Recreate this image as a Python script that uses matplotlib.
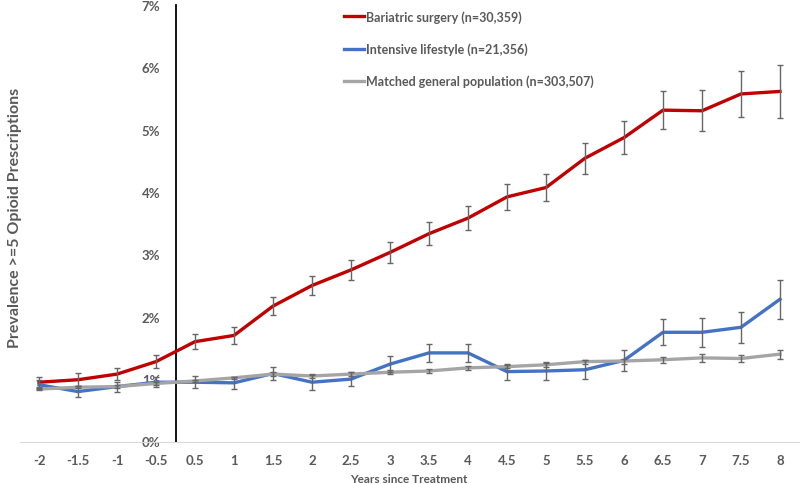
import matplotlib.pyplot as plt
import numpy as np

plt.rcParams['font.family'] = ['Lato', 'DejaVu Sans']

years = ['-2', '-1.5', '-1', '-0.5', '0.5', '1', '1.5', '2', '2.5', '3',
         '3.5', '4', '4.5', '5', '5.5', '6', '6.5', '7', '7.5', '8']

bariatric = [0.95, 0.99, 1.08, 1.28, 1.60, 1.70, 2.17, 2.50, 2.75, 3.03,
             3.33, 3.58, 3.92, 4.07, 4.54, 4.87, 5.31, 5.30, 5.57, 5.61]
bariatric_err = [0.08, 0.10, 0.10, 0.11, 0.12, 0.13, 0.14, 0.15, 0.16, 0.17,
                 0.18, 0.19, 0.21, 0.22, 0.25, 0.27, 0.30, 0.33, 0.37, 0.43]

lifestyle = [0.91, 0.80, 0.88, 0.95, 0.95, 0.94, 1.09, 0.95, 1.00, 1.24,
             1.42, 1.42, 1.12, 1.13, 1.15, 1.30, 1.75, 1.75, 1.83, 2.28]
lifestyle_err = [0.07, 0.09, 0.08, 0.08, 0.10, 0.10, 0.11, 0.12, 0.11, 0.13,
                 0.14, 0.14, 0.13, 0.14, 0.15, 0.17, 0.21, 0.23, 0.25, 0.31]

general = [0.84, 0.87, 0.88, 0.93, 0.97, 1.02, 1.08, 1.05, 1.08, 1.11,
           1.13, 1.18, 1.20, 1.23, 1.28, 1.29, 1.31, 1.34, 1.33, 1.40]
general_err = [0.02, 0.02, 0.02, 0.02, 0.02, 0.02, 0.03, 0.03, 0.03, 0.03,
               0.03, 0.03, 0.03, 0.03, 0.03, 0.04, 0.05, 0.06, 0.05, 0.07]

labels = ['Bariatric surgery (n=30,359)',
          'Intensive lifestyle (n=21,356)',
          'Matched general population (n=303,507)']
colors = ['#C00000', '#4472C4', '#A5A5A5']
text_color = '#595959'

x = np.arange(len(years))

fig = plt.figure(figsize=(8, 4.85), dpi=100)
ax = fig.add_axes([19.5 / 800, 1 - 442.5 / 485, 780 / 800, (442.5 - 5.7) / 485])

for vals, errs, c, lab in zip([bariatric, lifestyle, general],
                              [bariatric_err, lifestyle_err, general_err],
                              colors, labels):
    ax.plot(x, vals, color=c, lw=2.4, label=lab, zorder=2)
    ax.errorbar(x, vals, yerr=errs, fmt='none', ecolor='#666666',
                elinewidth=1, capsize=2.3, capthick=1, zorder=3)

ax.set_xlim(-0.5, len(years) - 0.5)
ax.set_ylim(0, 7)
ax.set_xticks(x)
ax.set_xticklabels(years)
ax.set_yticks(range(8))
ax.set_yticklabels([f'{i}%' for i in range(8)])

ax.spines['left'].set_position(('data', 3.5))
ax.spines['left'].set_color('black')
ax.spines['left'].set_linewidth(1.3)
ax.spines['left'].set_zorder(1)
ax.spines['bottom'].set_color('#D9D9D9')
ax.spines['top'].set_visible(False)
ax.spines['right'].set_visible(False)
ax.tick_params(length=0, colors=text_color, labelsize=9.5)
ax.tick_params(axis='y', pad=11)
ax.tick_params(axis='x', pad=9)
for t in ax.get_xticklabels() + ax.get_yticklabels():
    t.set_fontweight('bold')

fig.text(15 / 800, 1 - 218 / 485, 'Prevalence >=5 Opioid Prescriptions',
         rotation=90, ha='center', va='center', fontsize=11.5,
         fontweight='bold', color=text_color)
fig.text(409 / 800, 1 - 480 / 485, 'Years since Treatment', ha='center',
         va='center', fontsize=8.5, fontweight='bold', color=text_color)

leg = ax.legend(loc='upper left', bbox_to_anchor=(333 / 800, 1 - 0 / 485),
                bbox_transform=fig.transFigure, frameon=False, fontsize=9,
                handlelength=1.6, handletextpad=0.15, labelspacing=1.55)
for t in leg.get_texts():
    t.set_color(text_color)
    t.set_fontweight('bold')

fig.savefig('out.png', dpi=100)
